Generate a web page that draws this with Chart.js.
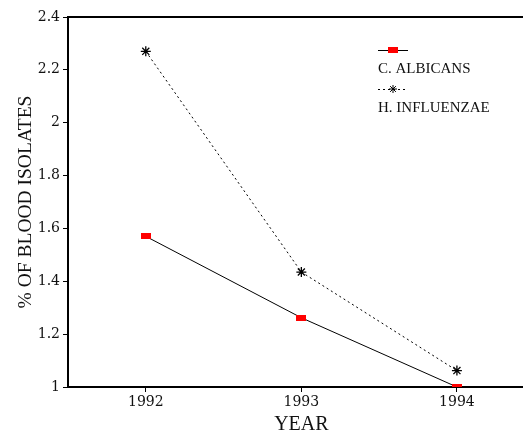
<!DOCTYPE html>
<html>
<head>
<meta charset="utf-8">
<script src="https://cdn.jsdelivr.net/npm/chart.js@4.4.0/dist/chart.umd.min.js"></script>
<style>
    html, body { margin: 0; padding: 0; background: #fff; overflow: hidden; }
    #wrap { width: 523px; height: 432px; overflow: hidden; }
</style>
</head>
<body>
<div id="wrap"><canvas id="chart" width="541" height="432"></canvas></div>
<script>
// 数据
const years = [1992, 1993, 1994];
const albicans = [1.57, 1.262, 1.0];
const influenzae = [2.27, 1.435, 1.062];
const seriesNames = ['C. ALBICANS', 'H. INFLUENZAE'];
const yTicks = [1, 1.2, 1.4, 1.6, 1.8, 2, 2.2, 2.4];

const serif = "'Liberation Serif', 'DejaVu Serif', serif";
const tickFont = "'DejaVu Serif', serif";

// 红色矩形标记
function makeRectMarker() {
    const c = document.createElement('canvas');
    c.width = 10;
    c.height = 6;
    const g = c.getContext('2d');
    g.fillStyle = '#ff0000';
    g.fillRect(0, 0, 10, 6);
    return c;
}
const rectMarker = makeRectMarker();

function drawStar(ctx, x, y, r) {
    const d = r * 0.72;
    ctx.beginPath();
    ctx.moveTo(x - r, y); ctx.lineTo(x + r, y);
    ctx.moveTo(x, y - r); ctx.lineTo(x, y + r);
    ctx.moveTo(x - d, y - d); ctx.lineTo(x + d, y + d);
    ctx.moveTo(x - d, y + d); ctx.lineTo(x + d, y - d);
    ctx.stroke();
}

// 上边框 + 图例
const framePlugin = {
    id: 'framePlugin',
    afterDraw(chart) {
        const ctx = chart.ctx;
        const area = chart.chartArea;
        ctx.save();
        ctx.strokeStyle = '#000';
        ctx.lineWidth = 2;
        ctx.beginPath();
        ctx.moveTo(area.left - 1, area.top);
        ctx.lineTo(chart.width, area.top);
        ctx.stroke();

        // 图例
        const lx = 378, rows = [50, 89];
        ctx.font = "15px " + serif;
        ctx.fillStyle = '#111';
        ctx.textBaseline = 'alphabetic';
        chart.data.datasets.forEach(function(ds, i) {
            const y = rows[i];
            ctx.strokeStyle = '#000';
            ctx.lineWidth = 1;
            ctx.setLineDash(ds.borderDash || []);
            ctx.beginPath();
            ctx.moveTo(lx, y + 0.5);
            ctx.lineTo(lx + 30, y + 0.5);
            ctx.stroke();
            ctx.setLineDash([]);
            if (i === 0) {
                ctx.drawImage(rectMarker, lx + 10, y - 3);
            } else {
                drawStar(ctx, lx + 15, y, 4);
            }
            ctx.fillText(ds.label, lx, y + 23);
        });
        ctx.restore();
    }
};

const ctx = document.getElementById('chart').getContext('2d');
new Chart(ctx, {
    type: 'line',
    data: {
        datasets: [
            {
                label: seriesNames[0],
                data: years.map(function(y, i) { return { x: y, y: albicans[i] }; }),
                borderColor: '#000',
                borderWidth: 1,
                pointStyle: rectMarker,
                pointRadius: 5,
                tension: 0
            },
            {
                label: seriesNames[1],
                data: years.map(function(y, i) { return { x: y, y: influenzae[i] }; }),
                borderColor: '#000',
                borderWidth: 1,
                borderDash: [2, 3],
                pointStyle: 'star',
                pointRadius: 5,
                pointBorderColor: '#000',
                pointBorderWidth: 1.3,
                tension: 0
            }
        ]
    },
    options: {
        responsive: false,
        animation: false,
        layout: { padding: { top: 17, right: 0, left: 0, bottom: 0 } },
        plugins: {
            legend: { display: false },
            tooltip: { enabled: false }
        },
        scales: {
            x: {
                type: 'linear',
                min: 1991.5,
                max: 1994.5,
                afterBuildTicks: function(axis) {
                    axis.ticks = years.map(function(v) { return { value: v }; });
                },
                afterFit: function(axis) { axis.height = 45; },
                border: { color: '#000', width: 2 },
                grid: { drawOnChartArea: false, drawTicks: true, tickLength: 5, color: '#000' },
                ticks: {
                    color: '#111',
                    font: { family: tickFont, size: 14 },
                    padding: 2,
                    maxRotation: 0,
                    callback: function(v) { return String(v); }
                },
                title: {
                    display: true,
                    text: 'YEAR',
                    color: '#111',
                    font: { family: serif, size: 20 },
                    padding: { top: 0, bottom: -5 }
                }
            },
            y: {
                min: 1,
                max: 2.4,
                afterBuildTicks: function(axis) {
                    axis.ticks = yTicks.map(function(v) { return { value: v }; });
                },
                afterFit: function(axis) { axis.width = 68; },
                border: { color: '#000', width: 2 },
                grid: { drawOnChartArea: false, drawTicks: true, tickLength: 5, color: '#000' },
                ticks: {
                    color: '#111',
                    font: { family: tickFont, size: 14 },
                    padding: 3,
                    callback: function(v) { return String(v); }
                },
                title: {
                    display: true,
                    text: '% OF BLOOD ISOLATES',
                    color: '#111',
                    font: { family: serif, size: 19.5 },
                    padding: { top: 14, bottom: 0 }
                }
            }
        }
    },
    plugins: [framePlugin]
});
</script>
</body>
</html>
